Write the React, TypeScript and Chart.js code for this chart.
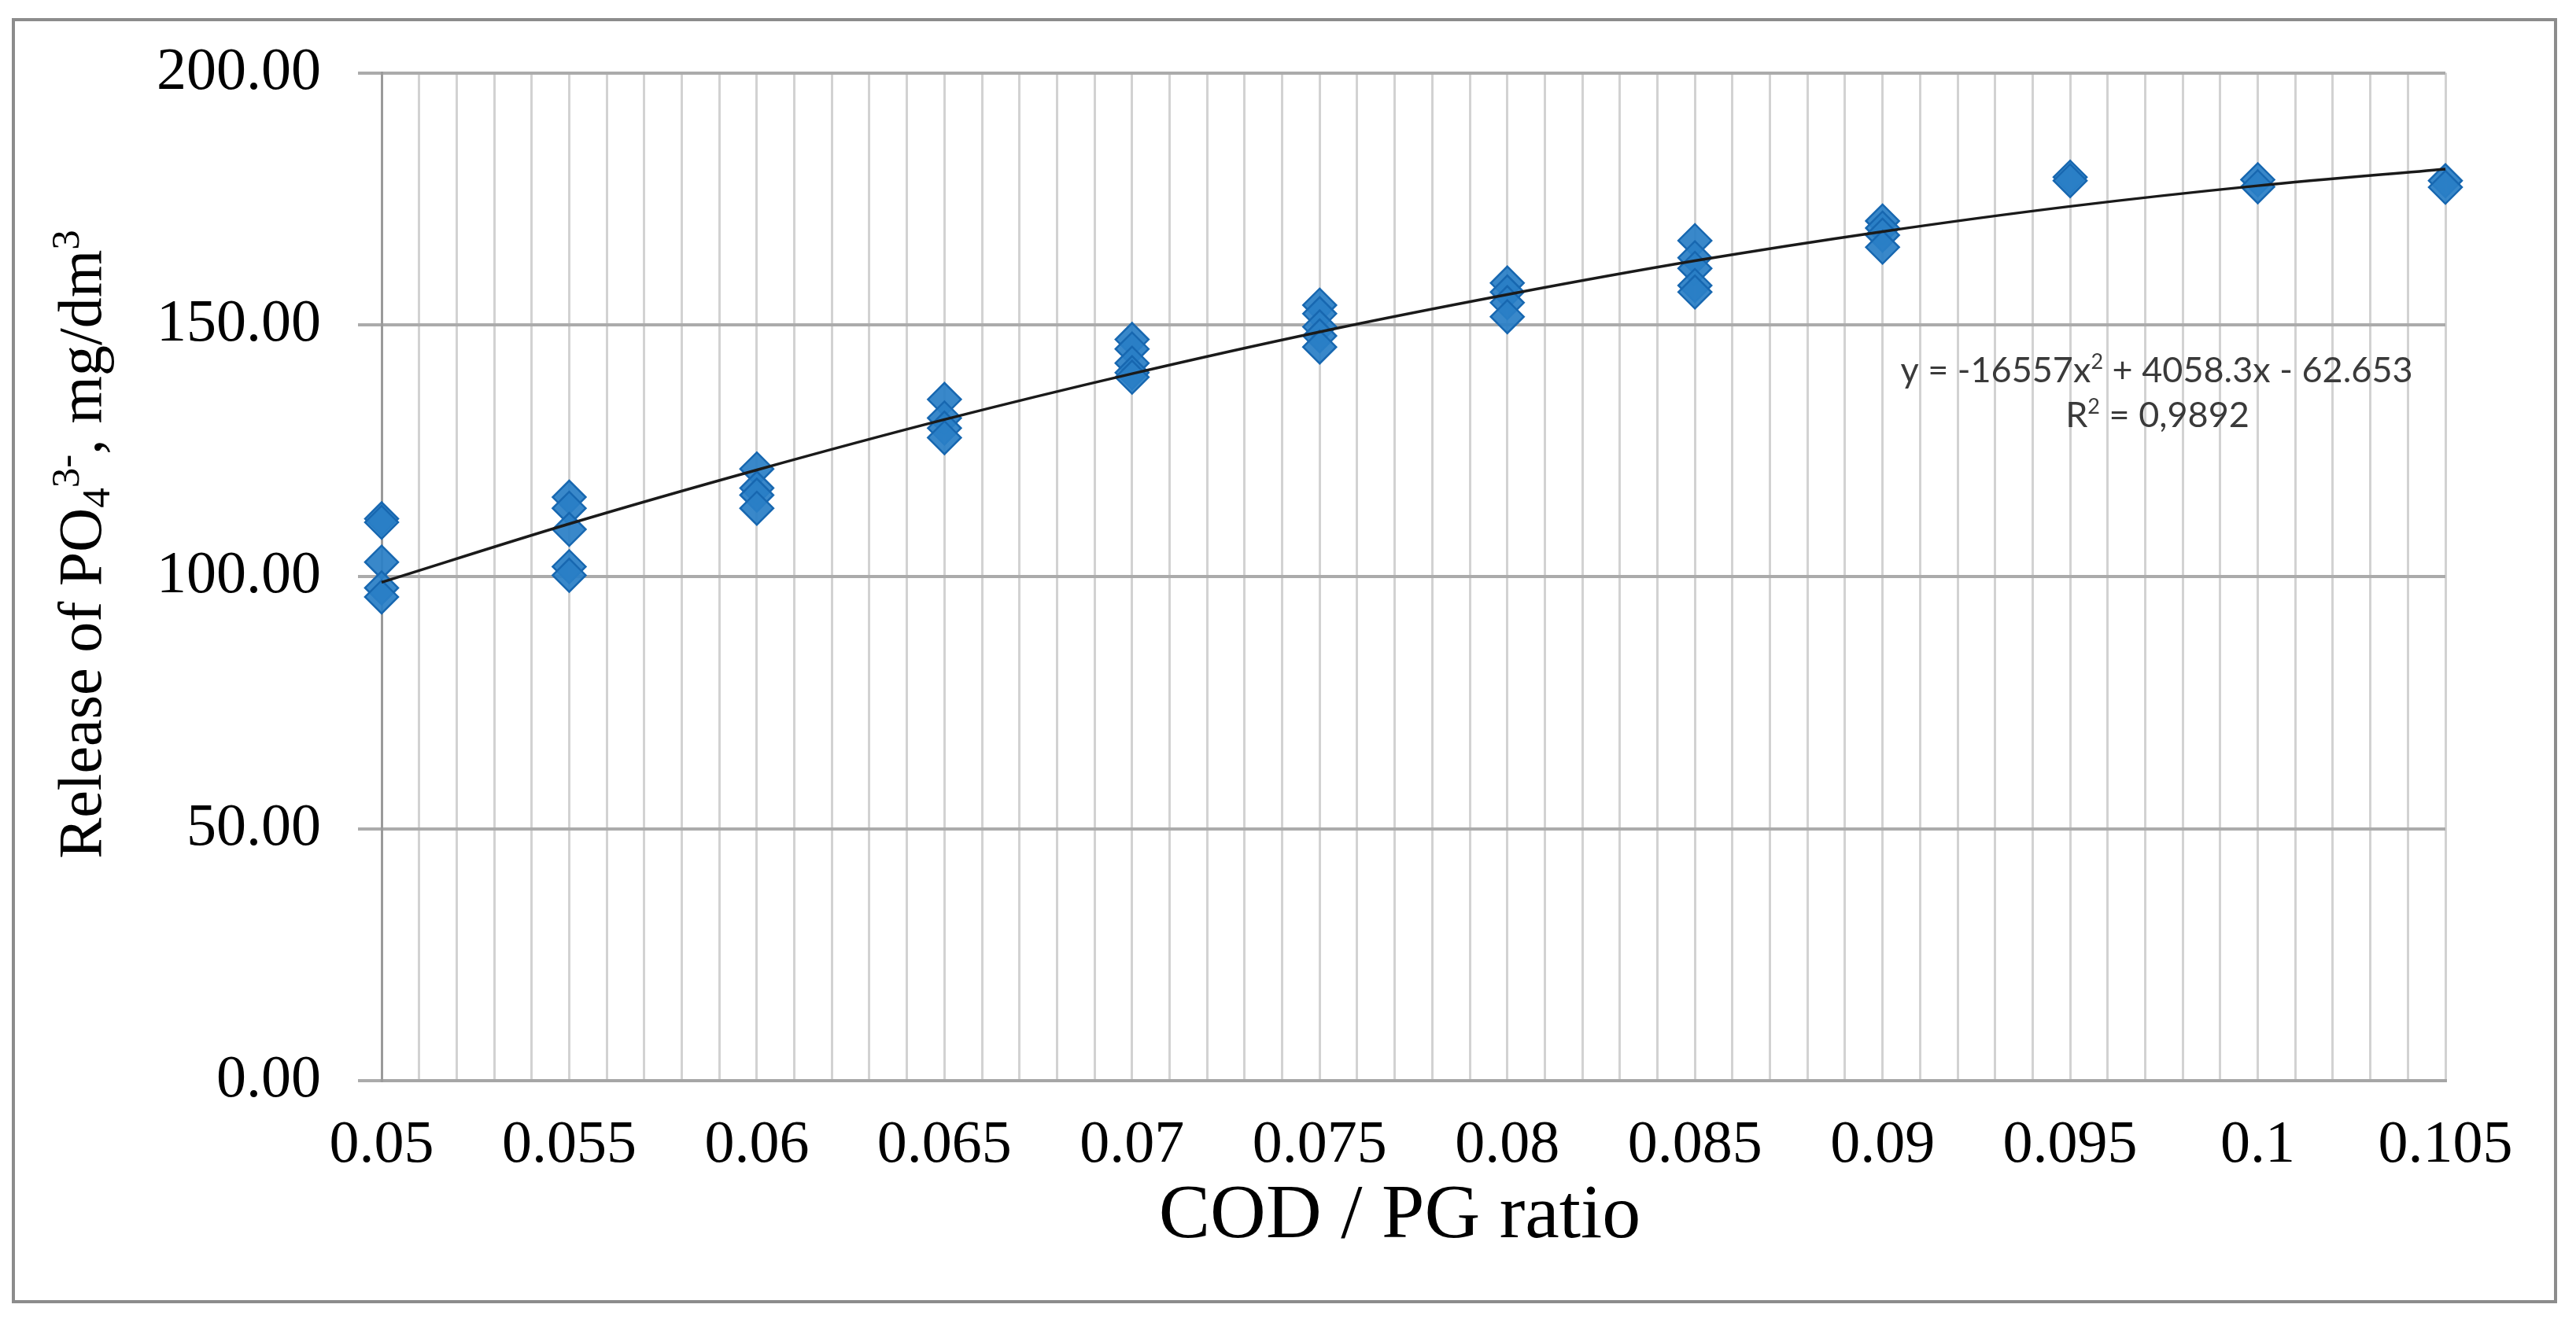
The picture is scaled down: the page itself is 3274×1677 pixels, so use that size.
import React, { useEffect, useRef } from "react";
import { Chart, registerables } from "chart.js";

Chart.register(...registerables);

// ---- data ----
const xLevels = [0.05, 0.055, 0.06, 0.065, 0.07, 0.075, 0.08, 0.085, 0.09, 0.095, 0.1, 0.105];
const xTickLabels = ["0.05", "0.055", "0.06", "0.065", "0.07", "0.075", "0.08", "0.085", "0.09", "0.095", "0.1", "0.105"];

const release050 = [111.5, 110.8, 102.9, 97.8, 96.0];
const release055 = [115.8, 113.6, 109.4, 102.0, 100.3];
const release060 = [121.4, 117.6, 116.2, 113.6];
const release065 = [135.2, 131.5, 129.5, 127.6];
const release070 = [147.1, 145.2, 142.4, 140.5, 139.6];
const release075 = [153.9, 152.2, 149.6, 147.8, 145.6];
const release080 = [158.3, 156.5, 154.4, 151.6];
const release085 = [166.7, 163.3, 161.2, 157.8, 156.5];
const release090 = [170.6, 169.2, 167.8, 165.4];
const release095 = [179.3, 178.6];
const release100 = [178.8, 177.4];
const release105 = [178.6, 177.3];
const releaseByLevel = [
  release050, release055, release060, release065, release070, release075,
  release080, release085, release090, release095, release100, release105,
];

// polynomial trendline at each level
const trendValues = [98.9, 110.5, 121.2, 131.2, 140.3, 148.6, 156.0, 162.7, 168.5, 173.5, 177.6, 180.9];

const yTickLabels = ["0.00", "50.00", "100.00", "150.00", "200.00"];

const equationLine1 = [
  { t: "y = -16557x", sup: false },
  { t: "2", sup: true },
  { t: " + 4058.3x - 62.653", sup: false },
];
const equationLine2 = [
  { t: "R", sup: false },
  { t: "2", sup: true },
  { t: " = 0,9892", sup: false },
];

const SERIF = "'Liberation Serif', 'Times New Roman', serif";
const SANS = "Lato, 'Open Sans', sans-serif";

const textPlugin = {
  id: "customText",
  afterDraw(chart: any) {
    const ctx = chart.ctx as CanvasRenderingContext2D;

    // ---- Y axis title (rotated, with sub/superscripts) ----
    const ySize = 78;
    const small = Math.round(ySize * 0.65);
    const segs = [
      { t: "Release of PO", size: ySize, dy: 0 },
      { t: "4", size: small, dy: ySize * 0.14 },
      { t: "3-", size: small, dy: -ySize * 0.36 },
      { t: ", mg/dm", size: ySize, dy: 0 },
      { t: "3", size: small, dy: -ySize * 0.36 },
    ];
    ctx.save();
    ctx.fillStyle = "#000";
    ctx.textBaseline = "alphabetic";
    ctx.textAlign = "left";
    let total = 0;
    segs.forEach((s) => {
      ctx.font = `${s.size}px ${SERIF}`;
      total += ctx.measureText(s.t).width;
    });
    const yCenter = 692;
    ctx.translate(128, yCenter + total / 2);
    ctx.rotate(-Math.PI / 2);
    let cx = 0;
    segs.forEach((s) => {
      ctx.font = `${s.size}px ${SERIF}`;
      ctx.fillText(s.t, cx, s.dy);
      cx += ctx.measureText(s.t).width;
    });
    ctx.restore();

    // ---- X axis title ----
    ctx.save();
    ctx.fillStyle = "#000";
    ctx.font = `98px ${SERIF}`;
    ctx.textAlign = "center";
    ctx.textBaseline = "alphabetic";
    ctx.fillText("COD / PG ratio", 1779, 1573);
    ctx.restore();

    // ---- trendline equation ----
    const drawLine = (parts: { t: string; sup: boolean }[], centerX: number, baseline: number) => {
      const size = 45;
      const supSize = Math.round(size * 0.6);
      let w = 0;
      parts.forEach((p) => {
        ctx.font = `${p.sup ? supSize : size}px ${SANS}`;
        w += ctx.measureText(p.t).width;
      });
      let x = centerX - w / 2;
      parts.forEach((p) => {
        ctx.font = `${p.sup ? supSize : size}px ${SANS}`;
        ctx.fillText(p.t, x, p.sup ? baseline - size * 0.38 : baseline);
        x += ctx.measureText(p.t).width;
      });
    };
    ctx.save();
    ctx.fillStyle = "#3a3a3a";
    ctx.textAlign = "left";
    ctx.textBaseline = "alphabetic";
    drawLine(equationLine1, 2741, 486);
    drawLine(equationLine2, 2742, 543);
    ctx.restore();
  },
};

export default function App() {
  const canvasRef = useRef<HTMLCanvasElement | null>(null);

  useEffect(() => {
    if (!canvasRef.current) return;
    const scatterData = xLevels.flatMap((x, i) => releaseByLevel[i].map((y) => ({ x, y })));
    const trendData = xLevels.map((x, i) => ({ x, y: trendValues[i] }));

    const chart = new Chart(canvasRef.current, {
      type: "scatter",
      data: {
        datasets: [
          {
            type: "line",
            label: "Trend",
            data: trendData,
            borderColor: "#1a1a1a",
            borderWidth: 3.5,
            pointRadius: 0,
            fill: false,
            cubicInterpolationMode: "monotone",
            showLine: true,
            clip: false,
          } as any,
          {
            label: "Release",
            data: scatterData,
            pointStyle: "rectRot",
            pointRadius: 21,
            backgroundColor: "rgba(42, 127, 198, 0.93)",
            borderColor: "#1767b0",
            borderWidth: 2.5,
            showLine: false,
            clip: false,
          } as any,
        ],
      },
      options: {
        animation: false,
        responsive: true,
        maintainAspectRatio: false,
        layout: { padding: { left: 0, top: 87, right: 166, bottom: 0 } },
        plugins: {
          legend: { display: false },
          tooltip: { enabled: false },
          title: { display: false },
        },
        scales: {
          x: {
            type: "linear",
            min: 0.05,
            max: 0.105,
            afterFit: (scale: any) => {
              scale.height = 303;
            },
            ticks: {
              stepSize: 0.001,
              autoSkip: false,
              maxRotation: 0,
              minRotation: 0,
              padding: 37,
              color: "#000",
              font: { family: SERIF, size: 76 },
              callback: (_v: any, index: number) => (index % 5 === 0 ? xTickLabels[index / 5] : ""),
            },
            grid: {
              color: "#d2d2d2",
              lineWidth: 3,
              drawTicks: false,
            },
            border: { color: "#a6a6a6", width: 4 },
            title: { display: false },
          },
          y: {
            type: "linear",
            min: 0,
            max: 200,
            afterFit: (scale: any) => {
              scale.width = 485;
            },
            ticks: {
              stepSize: 50,
              padding: 47,
              color: "#000",
              font: { family: SERIF, size: 76 },
              callback: (_v: any, index: number) => yTickLabels[index],
            },
            grid: {
              color: "#ababab",
              lineWidth: 4,
              drawTicks: true,
              tickLength: 30,
            },
            border: { color: "#9a9a9a", width: 3 },
            title: { display: false },
          },
        },
      },
      plugins: [textPlugin],
    });
    return () => chart.destroy();
  }, []);

  return (
    <div
      style={{
        position: "absolute",
        left: 0,
        top: 0,
        width: 3274,
        height: 1677,
        background: "#fff",
        overflow: "hidden",
      }}
    >
      <div
        style={{
          position: "absolute",
          left: 15,
          top: 23,
          width: 3235,
          height: 1634,
          boxSizing: "border-box",
          border: "4px solid #8c8c8c",
        }}
      />
      <div style={{ position: "absolute", left: 0, top: 0, width: 3274, height: 1677 }}>
        <canvas ref={canvasRef} />
      </div>
    </div>
  );
}
